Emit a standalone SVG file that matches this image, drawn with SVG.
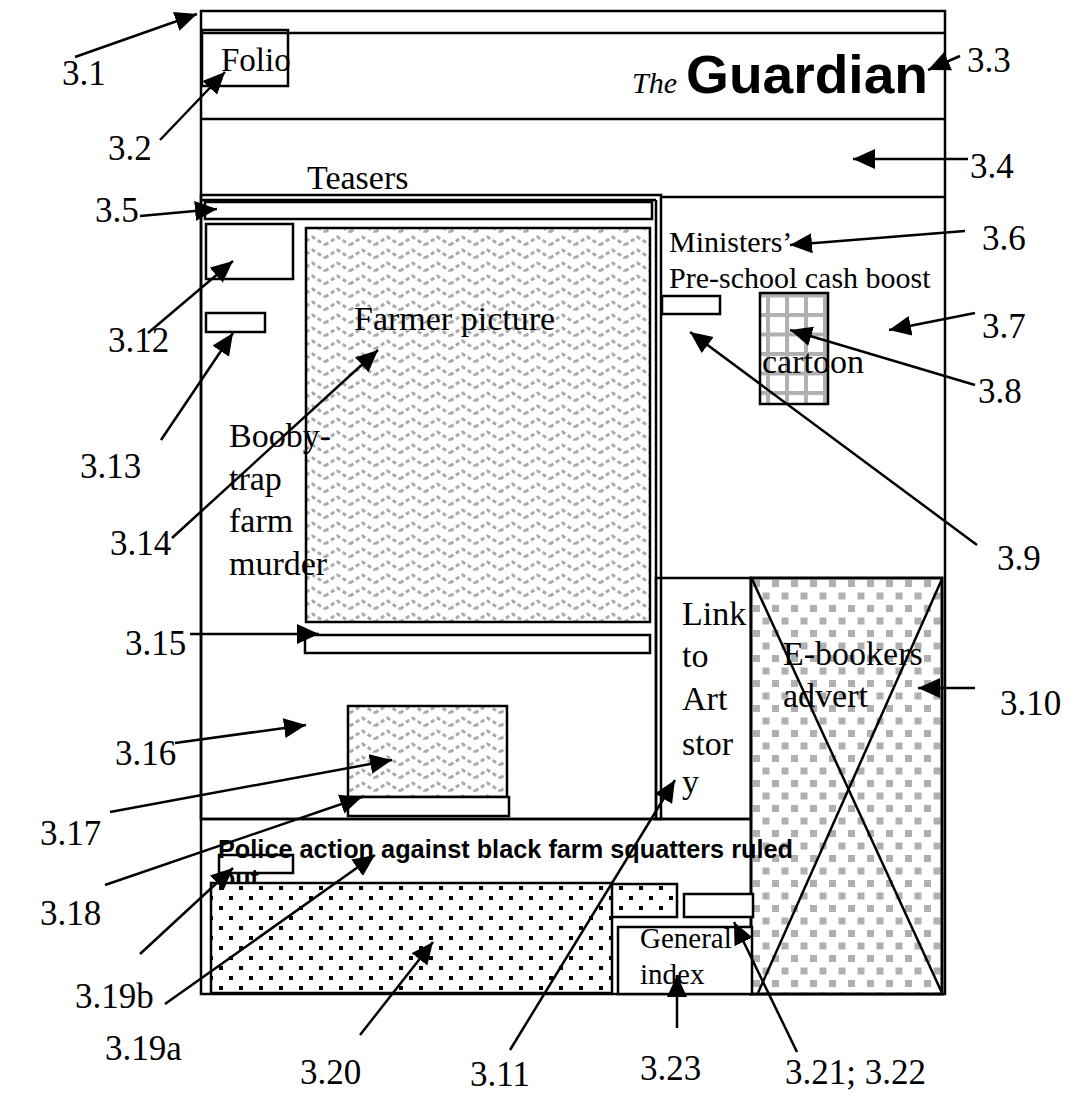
<svg xmlns="http://www.w3.org/2000/svg" width="1078" height="1095" viewBox="0 0 1078 1095">
<style>
.ln{fill:none;stroke:#000;stroke-width:2.5}
.bx{fill:#fff;stroke:#000;stroke-width:2.5}
.t{font-family:"Liberation Serif","Times New Roman",serif;fill:#000}
.lb{font-family:"Liberation Serif","Times New Roman",serif;font-size:35px;fill:#000}
.c{fill:none;stroke:#000;stroke-width:2.5;marker-end:url(#ah)}
</style>
<defs>
<marker id="ah" markerUnits="userSpaceOnUse" markerWidth="24" markerHeight="22" refX="22" refY="10" orient="auto">
<path d="M0,0 L22,10 L0,20 z" fill="#000"/>
</marker>
<pattern id="zig" width="25" height="13" patternUnits="userSpaceOnUse">
<rect width="25" height="13" fill="#fff"/>
<polyline points="0,11 12.5,3 25,11" fill="none" stroke="#aaa" stroke-width="3" stroke-dasharray="4 3"/>
</pattern>
<pattern id="grid" x="766" y="313" width="19" height="19.5" patternUnits="userSpaceOnUse">
<rect width="19" height="19.5" fill="#fff"/>
<rect x="0" y="0" width="4" height="19.5" fill="#b0b0b0"/>
<rect x="0" y="0" width="19" height="4" fill="#b0b0b0"/>
</pattern>
<pattern id="chk" x="751" y="578" width="19" height="25" patternUnits="userSpaceOnUse">
<rect width="19" height="25" fill="#fff"/>
<rect x="2" y="2" width="7" height="7" fill="#b0b0b0"/>
<rect x="11.5" y="14.5" width="7" height="7" fill="#b0b0b0"/>
</pattern>
<pattern id="dot" x="211" y="883" width="20" height="20" patternUnits="userSpaceOnUse">
<rect width="20" height="20" fill="#fff"/>
<rect x="8" y="3" width="4" height="4" fill="#000"/>
<rect x="18" y="13" width="4" height="4" fill="#000"/>
<rect x="-2" y="13" width="4" height="4" fill="#000"/>
</pattern>
</defs>
<rect width="1078" height="1095" fill="#fff"/>

<g id="frame">
<rect x="201" y="11" width="744" height="983" class="ln" stroke-width="3"/>
<line x1="201" y1="33" x2="945" y2="33" class="ln"/>
<line x1="201" y1="119" x2="945" y2="119" class="ln"/>
<line x1="661" y1="197" x2="945" y2="197" class="ln"/>
</g>

<g id="folio">
<rect x="202" y="30" width="86" height="56" class="ln"/>
<text x="221" y="71" class="t" font-size="33">Folio</text>
</g>

<g id="masthead">
<text x="632" y="93" class="t" font-size="30" font-style="italic">The</text>
<text x="686" y="93" font-family="Liberation Sans, Arial, sans-serif" font-weight="bold" font-size="53" textLength="242" lengthAdjust="spacingAndGlyphs">Guardian</text>
</g>

<g id="teasers">
<text x="307" y="189" class="t" font-size="34">Teasers</text>
</g>

<g id="left-column">
<rect x="201" y="195" width="460" height="624" class="ln"/>
<line x1="201" y1="200" x2="656" y2="200" class="ln" stroke-width="1.5"/>
<line x1="656" y1="200" x2="656" y2="819" class="ln" stroke-width="2"/>
</g>

<g id="bar-3-5"><rect x="205" y="202" width="447" height="17" class="bx"/></g>
<g id="box-3-12"><rect x="206" y="224" width="87" height="55" class="bx"/></g>
<g id="box-3-13"><rect x="206" y="313" width="59" height="19" class="bx"/></g>

<g id="farmer-picture">
<rect x="306" y="228" width="344" height="394" fill="url(#zig)" stroke="#000" stroke-width="2.5"/>
<text x="354" y="330" class="t" font-size="34">Farmer picture</text>
</g>

<g id="booby-trap">
<text class="t" font-size="34"><tspan x="229" y="447">Booby-</tspan><tspan x="229" y="490">trap</tspan><tspan x="229" y="532">farm</tspan><tspan x="229" y="575">murder</tspan></text>
</g>

<g id="bar-3-15"><rect x="305" y="635" width="345" height="18" class="bx"/></g>

<g id="picture-3-17"><rect x="348" y="706" width="159" height="91" fill="url(#zig)" stroke="#000" stroke-width="2.5"/></g>
<g id="bar-3-18"><rect x="348" y="797" width="161" height="19" class="bx"/></g>

<g id="ministers">
<text class="t" font-size="30"><tspan x="669" y="252">Ministers’</tspan><tspan x="669" y="288">Pre-school cash boost</tspan></text>
</g>
<g id="box-3-9"><rect x="662" y="296" width="58" height="18" class="bx"/></g>
<g id="cartoon">
<rect x="760" y="293" width="68" height="111" fill="url(#grid)" stroke="#000" stroke-width="2.5"/>
<text x="762" y="373" class="t" font-size="34">cartoon</text>
</g>

<g id="link-art">
<rect x="656" y="578" width="95" height="241" class="ln"/>
<text class="t" font-size="34"><tspan x="682" y="625">Link</tspan><tspan x="682" y="667">to</tspan><tspan x="682" y="710">Art</tspan><tspan x="682" y="755">stor</tspan><tspan x="682" y="793">y</tspan></text>
</g>

<g id="ebookers">
<rect x="751" y="578" width="191" height="416" fill="url(#chk)" stroke="#000" stroke-width="3"/>
<line x1="752" y1="579" x2="942" y2="993" class="ln"/>
<line x1="942" y1="579" x2="758" y2="993" class="ln"/>
<text class="t" font-size="34"><tspan x="783" y="665">E-bookers</tspan><tspan x="783" y="707">advert</tspan></text>
</g>

<g id="bottom-story">
<line x1="201" y1="819" x2="751" y2="819" class="ln"/>
<rect x="219" y="855" width="74" height="18" class="ln"/>
<text x="218" y="858" font-family="Liberation Sans, Arial, sans-serif" font-weight="bold" font-size="25" textLength="575" lengthAdjust="spacingAndGlyphs">Police action against black farm squatters ruled</text>
<text x="220" y="887" font-family="Liberation Sans, Arial, sans-serif" font-weight="bold" font-size="25">out</text>
</g>

<g id="dotted-3-20">
<rect x="608" y="884" width="69" height="33" fill="url(#dot)" stroke="#000" stroke-width="2.5"/>
<rect x="211" y="883" width="401" height="110" fill="url(#dot)" stroke="#000" stroke-width="2.5"/>
</g>
<g id="box-3-21"><rect x="684" y="894" width="69" height="23" class="bx"/></g>
<g id="general-index">
<rect x="618" y="927" width="134" height="67" class="bx"/>
<text class="t" font-size="29"><tspan x="640" y="948">General</tspan><tspan x="640" y="984">index</tspan></text>
</g>

<g id="labels">
<text x="62" y="85" class="lb">3.1</text>
<text x="108" y="160" class="lb" font-size="38">3.2</text>
<text x="967" y="72" class="lb">3.3</text>
<text x="970" y="178" class="lb">3.4</text>
<text x="95" y="222" class="lb">3.5</text>
<text x="982" y="250" class="lb">3.6</text>
<text x="982" y="338" class="lb">3.7</text>
<text x="978" y="403" class="lb">3.8</text>
<text x="997" y="570" class="lb">3.9</text>
<text x="1000" y="715" class="lb">3.10</text>
<text x="108" y="352" class="lb">3.12</text>
<text x="80" y="478" class="lb">3.13</text>
<text x="110" y="555" class="lb">3.14</text>
<text x="125" y="655" class="lb">3.15</text>
<text x="115" y="765" class="lb">3.16</text>
<text x="40" y="845" class="lb">3.17</text>
<text x="40" y="925" class="lb">3.18</text>
<text x="75" y="1008" class="lb">3.19b</text>
<text x="105" y="1060" class="lb">3.19a</text>
<text x="300" y="1084" class="lb">3.20</text>
<text x="470" y="1086" class="lb">3.11</text>
<text x="640" y="1080" class="lb">3.23</text>
<text x="785" y="1084" class="lb">3.21; 3.22</text>
</g>

<g id="connectors">
<line x1="75" y1="57" x2="197" y2="14" class="c"/>
<line x1="160" y1="140" x2="225" y2="72" class="c"/>
<line x1="960" y1="56" x2="928" y2="70" class="c"/>
<line x1="968" y1="159" x2="853" y2="159" class="c"/>
<line x1="140" y1="216" x2="217" y2="209" class="c"/>
<line x1="965" y1="231" x2="790" y2="245" class="c"/>
<line x1="975" y1="313" x2="889" y2="330" class="c"/>
<line x1="975" y1="385" x2="790" y2="330" class="c"/>
<line x1="977" y1="545" x2="690" y2="332" class="c"/>
<line x1="975" y1="688" x2="918" y2="688" class="c"/>
<line x1="510" y1="1050" x2="675" y2="780" class="c"/>
<line x1="148" y1="333" x2="233" y2="261" class="c"/>
<line x1="161" y1="440" x2="233" y2="333" class="c"/>
<line x1="172" y1="538" x2="378" y2="350" class="c"/>
<line x1="190" y1="634" x2="319" y2="634" class="c"/>
<line x1="175" y1="743" x2="306" y2="725" class="c"/>
<line x1="110" y1="812" x2="392" y2="760" class="c"/>
<line x1="105" y1="885" x2="362" y2="797" class="c"/>
<line x1="140" y1="954" x2="233" y2="868" class="c"/>
<line x1="165" y1="1004" x2="375" y2="855" class="c"/>
<line x1="360" y1="1035" x2="433" y2="942" class="c"/>
<line x1="677" y1="1028" x2="677" y2="975" class="c"/>
<line x1="797" y1="1052" x2="734" y2="922" class="c"/>
</g>
</svg>
